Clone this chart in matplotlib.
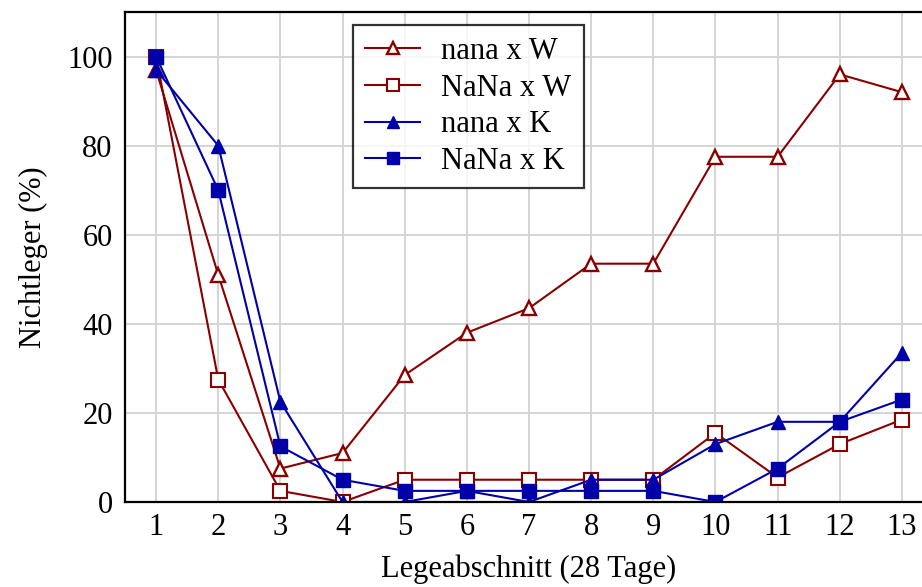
import matplotlib
matplotlib.use("Agg")
import matplotlib.pyplot as plt

plt.rcParams['font.family'] = ['Liberation Serif', 'DejaVu Serif']
plt.rcParams['mathtext.fontset'] = 'stix'

abschnitte = list(range(1, 14))
nana_w = [97, 51, 7.5, 11, 28.5, 38, 43.5, 53.5, 53.5, 77.5, 77.5, 96, 92]
NaNa_w = [100, 27.5, 2.5, 0, 5, 5, 5, 5, 5, 15.5, 5.5, 13, 18.5]
nana_k = [97, 80, 22.5, 0, 0, 2.5, 0, 5, 5, 13, 18, 18, 33.5]
NaNa_k = [100, 70, 12.5, 5, 2.5, 2.5, 2.5, 2.5, 2.5, 0, 7.5, 18, 23]

red = '#880000'
blue = '#0000a8'
fs = 22

fig = plt.figure(figsize=(9.22, 5.87), dpi=100)
ax = fig.add_axes([125 / 922, 85 / 587, 808 / 922, 490 / 587])

ax.plot(abschnitte, nana_w, color=red, lw=1.5, marker='^', ms=10,
        mfc='white', mec=red, mew=1.7, label='nana x W')
ax.plot(abschnitte, NaNa_w, color=red, lw=1.5, marker='s', ms=9.5,
        mfc='white', mec=red, mew=1.5, label='NaNa x W')
ax.plot(abschnitte, nana_k, color=blue, lw=1.5, marker='^', ms=10,
        mfc=blue, mec=blue, label='nana x K')
ax.plot(abschnitte, NaNa_k, color=blue, lw=1.5, marker='s', ms=9.5,
        mfc=blue, mec=blue, label='NaNa x K')

ax.set_xlim(0.5, 13.5)
ax.set_ylim(0, 110)
ax.set_xticks(abschnitte)
ax.set_yticks([0, 20, 40, 60, 80, 100])
ax.tick_params(axis='x', length=0, labelsize=fs, pad=8)
ax.tick_params(axis='y', length=0, labelsize=fs, pad=9)
ax.grid(True, color='#d4d4d4', lw=1.4)
ax.set_axisbelow(True)
for s in ax.spines.values():
    s.set_linewidth(1.6)
    s.set_color('black')

ax.set_xlabel('Legeabschnitt (28 Tage)', fontsize=fs, labelpad=9)
ax.set_ylabel('Nichtleger (%)', fontsize=fs, labelpad=14)

leg = ax.legend(loc='upper left', bbox_to_anchor=(0.282, 0.974), fontsize=fs,
                frameon=True, fancybox=False, edgecolor='black',
                handlelength=1.8, borderpad=0.4, labelspacing=0.25,
                handletextpad=0.7, borderaxespad=0, markerscale=0.85)
leg.get_frame().set_linewidth(1.6)

fig.savefig('out.png', dpi=100)
